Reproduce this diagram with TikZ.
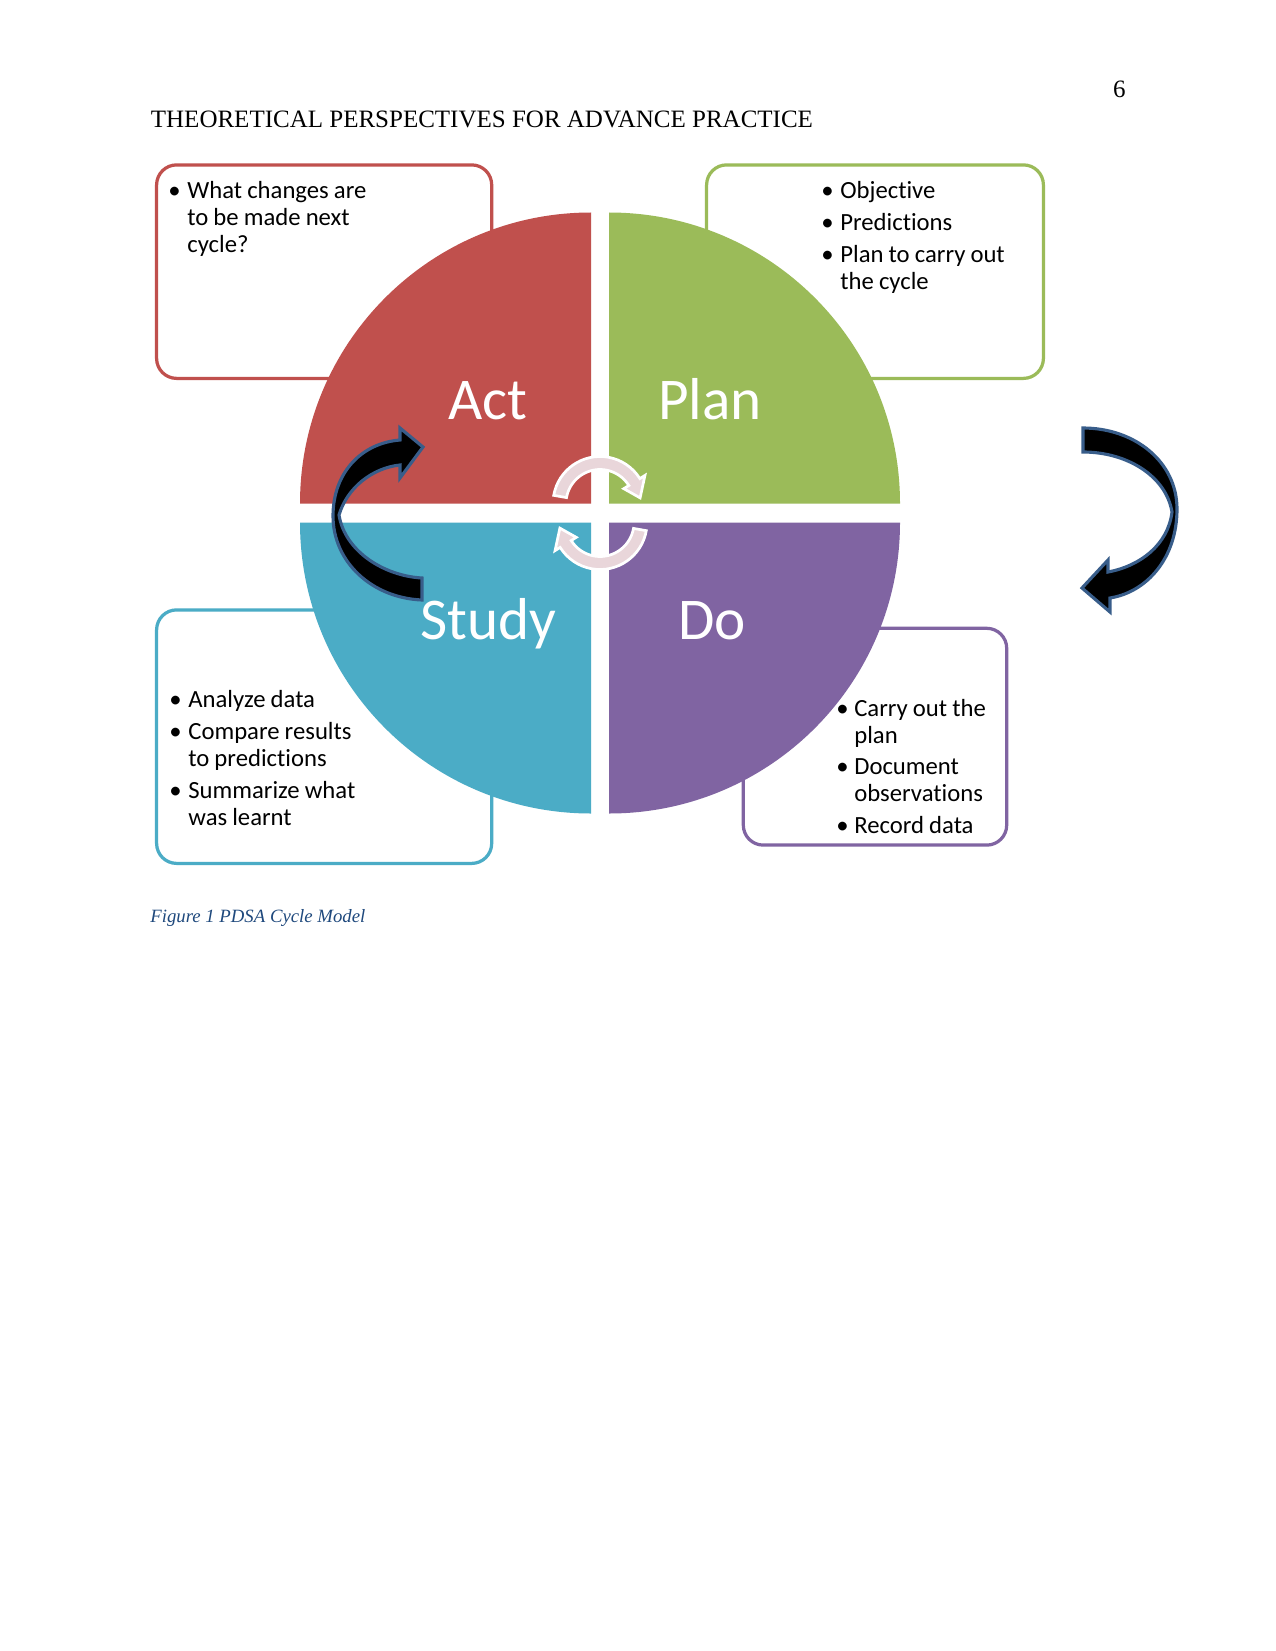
\documentclass[tikz,border=0pt]{standalone}
\usepackage{fontspec}
\setmainfont{Liberation Serif}
\newfontfamily\calfont[Ligatures=NoCommon]{Carlito}
\newfontfamily\calbig{Carlito}
\definecolor{actc}{HTML}{C0504D}
\definecolor{planc}{HTML}{9BBB59}
\definecolor{studyc}{HTML}{4BACC6}
\definecolor{doclr}{HTML}{8064A2}
\definecolor{ringc}{RGB}{233,214,218}
\definecolor{arrowline}{HTML}{385D8A}
\definecolor{capc}{HTML}{1F497D}
\newlength\bind
\newcommand\bitem[1]{\par\hangindent=\bind\hangafter=1\noindent\rule{0pt}{9.5pt}\makebox[\bind][l]{\textbullet}#1\par\vspace{2.25pt}}
\newcommand\bsetup[1]{\setlength\bind{#1}\setlength\parskip{0pt}\spaceskip=2.45pt\relax}
\begin{document}
\begin{tikzpicture}[x=0.48pt,y=-0.48pt,
  infobox/.style={rounded corners=9.6pt, line width=1.55pt, fill=white},
  quadlabel/.style={font=\calbig\fontsize{28.4}{32}\selectfont, text=white, anchor=base, inner sep=0pt},
  boxtext/.style={font=\calfont\fontsize{11.85}{12.95}\selectfont, text width=200pt, align=left, anchor=north west, inner sep=0pt},
  ringarrow/.style={fill=ringc, draw=white, line width=1.3pt, line join=miter},
  bigarrow/.style={fill=black, draw=arrowline, line width=1.5pt, line join=miter}]
\useasboundingbox (0,0) rectangle (1275,1651);
\fill[white] (0,0) rectangle (1275,1651);
% header
\node[anchor=base west, inner sep=0pt, font=\fontsize{12}{14}\selectfont] (header) at (150.5,127.4) {THEORETICAL PERSPECTIVES FOR ADVANCE PRACTICE};
\node[anchor=base east, inner sep=0pt, font=\fontsize{12}{14}\selectfont] (pagenum) at (1126,98) {6};
% info boxes
\draw[infobox, draw=actc] (156.6,164.9) rectangle (491.7,378.4);
\draw[infobox, draw=planc] (706.6,164.9) rectangle (1043.4,378.4);
\draw[infobox, draw=studyc] (156.6,609.9) rectangle (491.7,863.4);
\draw[infobox, draw=doclr] (743.3,628.3) rectangle (1006.7,845.1);
% quadrants
\coordinate (ca) at (591,503.5);
\coordinate (cp) at (609,503.5);
\coordinate (cs) at (591,522.5);
\coordinate (cd) at (609,522.5);
\fill[actc] (ca) -- ++(-291,0) arc[start angle=180, end angle=270, radius=291] -- cycle;
\fill[planc] (cp) -- ++(0,-291) arc[start angle=270, end angle=360, radius=291] -- cycle;
\fill[doclr] (cd) -- ++(291,0) arc[start angle=0, end angle=90, radius=291] -- cycle;
\fill[studyc] (cs) -- ++(0,291) arc[start angle=90, end angle=180, radius=291] -- cycle;
% centre ring arrows
\begin{scope}[shift={(600,503.5)}]
\filldraw[ringarrow] (190:47) arc[start angle=190, end angle=328, radius=47] -- (328:53) -- (352:40.5) -- (328:28) -- (328:34) arc[start angle=328, end angle=190, radius=34] -- cycle;
\end{scope}
\begin{scope}[shift={(600,522.5)}, rotate=180]
\filldraw[ringarrow] (190:47) arc[start angle=190, end angle=328, radius=47] -- (328:53) -- (352:40.5) -- (328:28) -- (328:34) arc[start angle=328, end angle=190, radius=34] -- cycle;
\end{scope}
% big black arrows
\filldraw[bigarrow] (422,578) -- (422,600) .. controls (372,598) and (333,562) .. (333,516) .. controls (333,472) and (362,443) .. (400,440) -- (400,428) -- (423,447) -- (400,478) -- (400,465) .. controls (372,468) and (347,488) .. (339,515) .. controls (345,552) and (385,576) .. (422,578) -- cycle;
\filldraw[bigarrow] (1083,428) .. controls (1135,428) and (1177,462) .. (1177,509) .. controls (1177,558) and (1147,592) .. (1110,598) -- (1110,612) -- (1082,588) -- (1108,560) -- (1108,572) .. controls (1140,566) and (1168,545) .. (1172,512) .. controls (1166,476) and (1127,452) .. (1083,452) -- cycle;
% quadrant labels
\node[quadlabel] (actlabel) at (488,419) {Act};
\node[quadlabel] (planlabel) at (710,419) {Plan};
\node[quadlabel] (studylabel) at (488.5,639) {Study};
\node[quadlabel] (dolabel) at (712,639) {Do};
% box texts
\node[boxtext] (acttext) at (168,170.7) {\bsetup{9.1pt}%
\bitem{What changes are\newline to be made next\newline cycle?}};
\node[boxtext] (plantext) at (821,171.4) {\bsetup{9.1pt}%
\bitem{Objective}\bitem{Predictions}\bitem{Plan to carry out\newline the cycle}};
\node[boxtext] (studytext) at (169,680.4) {\bsetup{9.1pt}%
\bitem{Analyze data}\bitem{Compare results\newline to predictions}\bitem{Summarize what\newline was learnt}};
\node[boxtext] (dotext) at (836,688.7) {\bsetup{8.6pt}%
\bitem{Carry out the\newline plan}\bitem{Document\newline observations}\bitem{Record data}};
% caption
\node[anchor=base west, inner sep=0pt, font=\itshape\fontsize{9}{11}\selectfont, text=capc] (caption) at (150,922) {Figure 1 PDSA Cycle Model};
\end{tikzpicture}
\end{document}
